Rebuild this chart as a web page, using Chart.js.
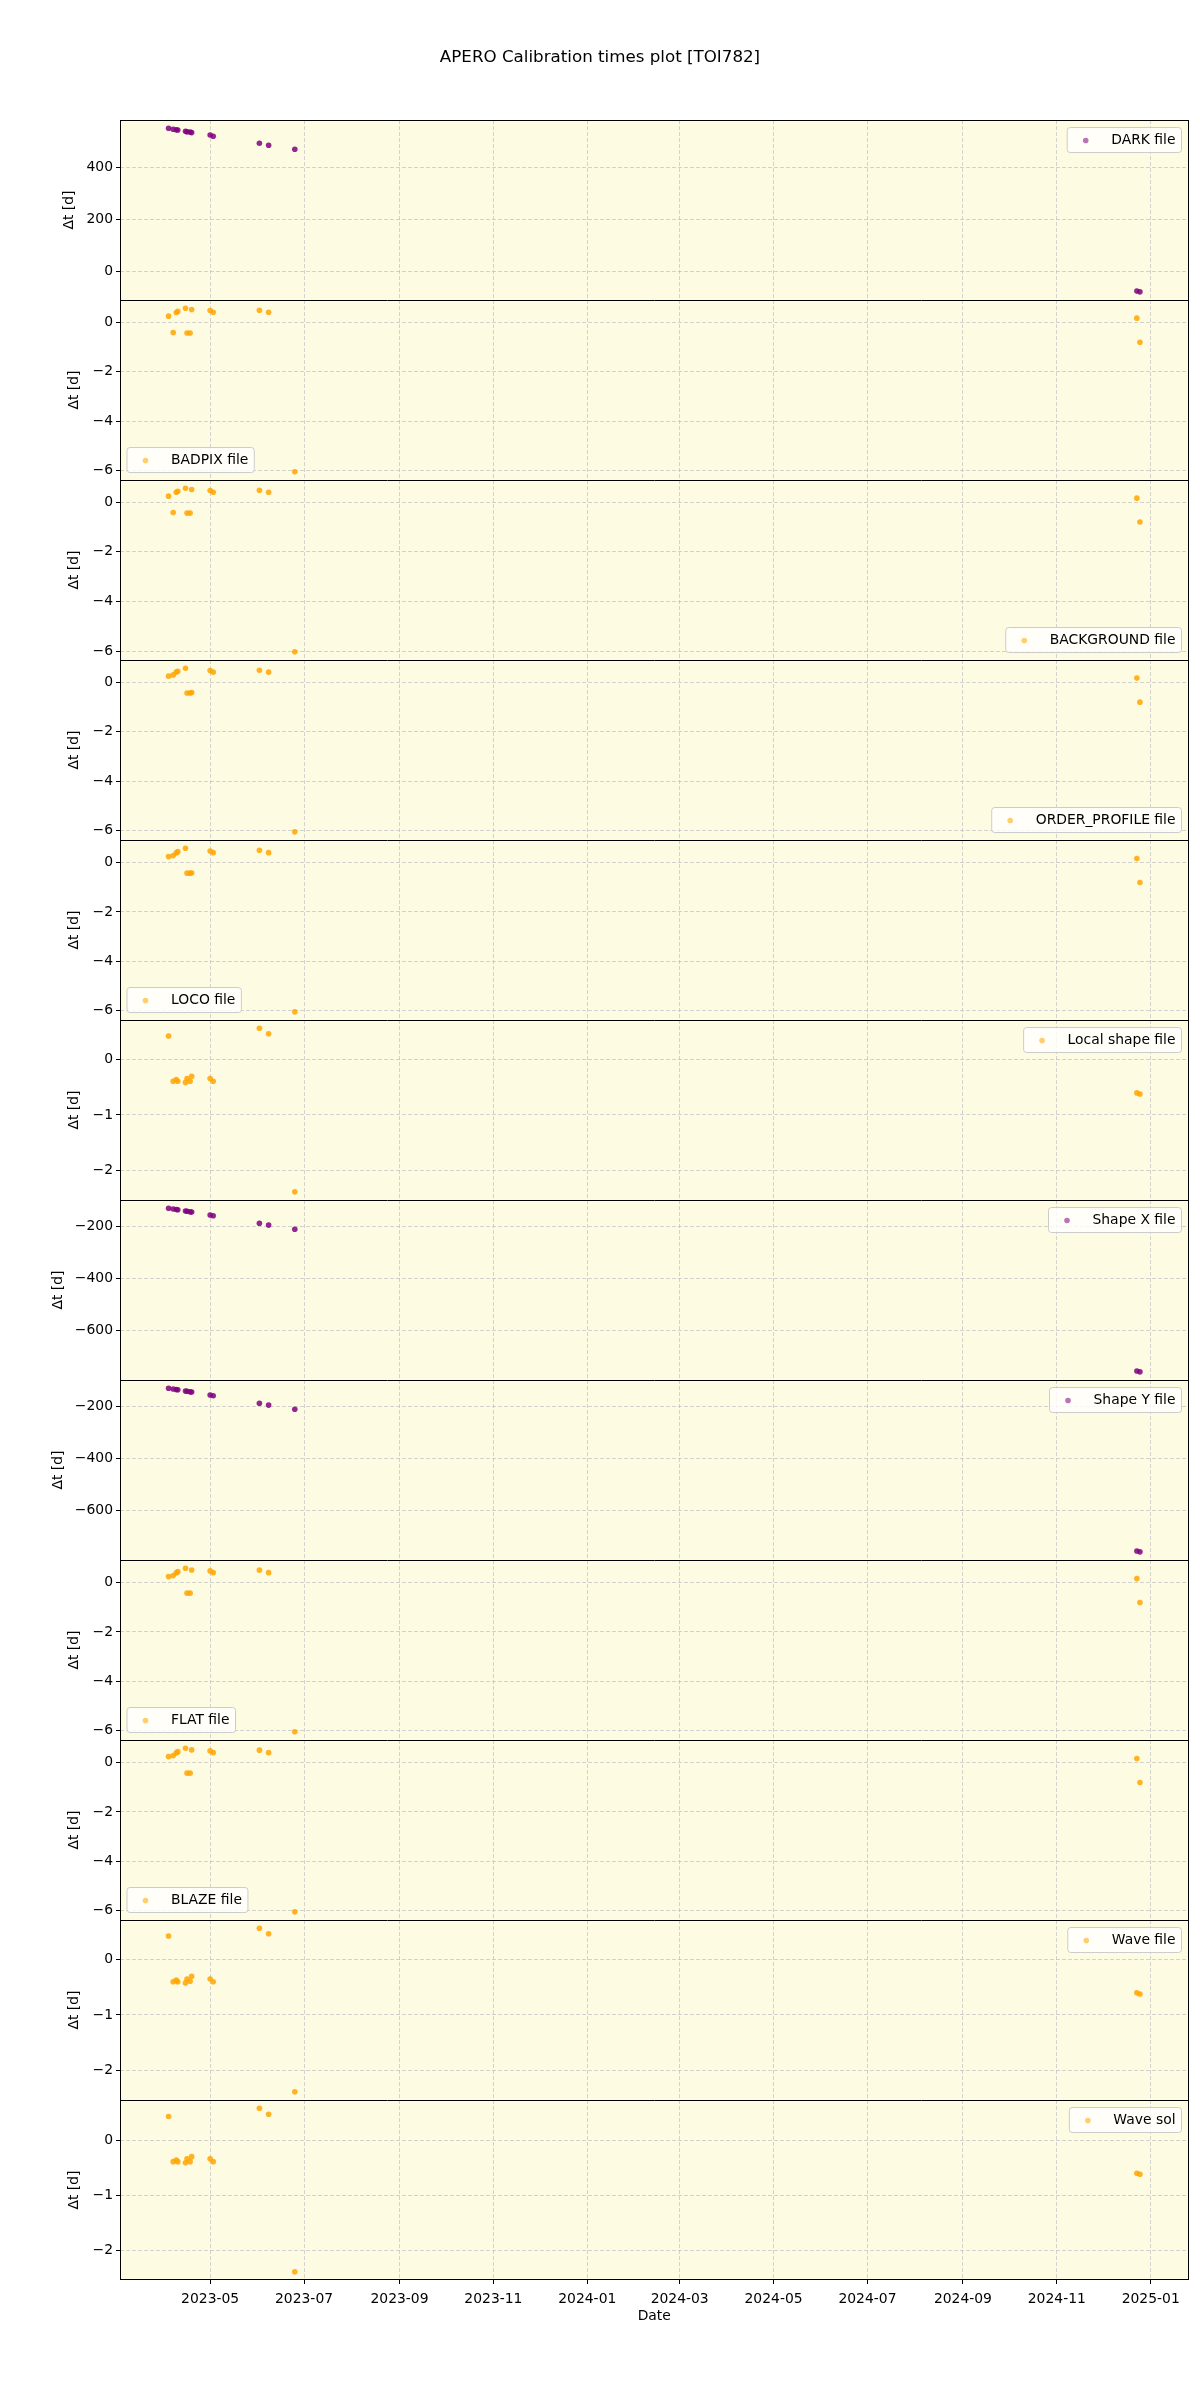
<!DOCTYPE html>
<html>
<head>
<meta charset="utf-8">
<title>APERO Calibration times plot [TOI782]</title>
<script src="https://cdn.jsdelivr.net/npm/chart.js@4"></script>
<style>
    html, body { margin: 0; padding: 0; background: #fff; }
    #wrap { width: 1200px; height: 2400px; }
</style>
</head>
<body>
<div id="wrap"><canvas id="chart_calib_times" width="1200" height="2400"></canvas></div>
<script>
// observation dates (same for every panel)
var obs_dates = ['2023-04-04', '2023-04-07', '2023-04-09', '2023-04-10', '2023-04-15', '2023-04-16',
    '2023-04-18', '2023-04-19', '2023-05-01', '2023-05-03', '2023-06-02', '2023-06-08', '2023-06-25',
    '2024-12-23', '2024-12-25'];

// delta t [d] per calibration file
var dark_file = [552, 548, 546, 545, 540, 538, 537, 535, 526, 521, 494, 486, 471, -77, -80];
var badpix_file = [0.24, -0.42, 0.39, 0.44, 0.56, -0.44, -0.44, 0.51, 0.47, 0.40, 0.48, 0.40, -6.04, 0.16, -0.81];
var background_file = [0.24, -0.42, 0.40, 0.44, 0.56, -0.44, -0.44, 0.51, 0.47, 0.40, 0.48, 0.40, -6.02, 0.16, -0.80];
var order_profile_file = [0.24, 0.29, 0.40, 0.44, 0.56, -0.44, -0.44, -0.42, 0.47, 0.40, 0.48, 0.40, -6.05, 0.16, -0.81];
var loco_file = [0.24, 0.28, 0.39, 0.44, 0.58, -0.43, -0.43, -0.42, 0.47, 0.40, 0.50, 0.40, -6.04, 0.16, -0.81];
var local_shape_file = [0.43, -0.39, -0.36, -0.39, -0.41, -0.34, -0.39, -0.30, -0.34, -0.39, 0.57, 0.47, -2.39, -0.60, -0.62];
var shape_x_file = [-131, -134, -136, -137, -142, -143, -145, -146, -157, -160, -189, -196, -212, -758, -761];
var shape_y_file = [-131, -134, -136, -137, -142, -143, -145, -146, -157, -160, -189, -196, -212, -758, -761];
var flat_file = [0.24, 0.28, 0.39, 0.44, 0.58, -0.43, -0.43, 0.51, 0.47, 0.40, 0.50, 0.40, -6.04, 0.16, -0.81];
var blaze_file = [0.24, 0.28, 0.39, 0.44, 0.58, -0.43, -0.43, 0.51, 0.47, 0.40, 0.50, 0.40, -6.04, 0.16, -0.81];
var wave_file = [0.43, -0.40, -0.37, -0.40, -0.42, -0.35, -0.39, -0.30, -0.35, -0.40, 0.57, 0.47, -2.39, -0.60, -0.62];
var wave_sol = [0.43, -0.39, -0.36, -0.39, -0.41, -0.34, -0.39, -0.30, -0.34, -0.39, 0.58, 0.47, -2.39, -0.60, -0.62];

var panel_names = ['DARK file', 'BADPIX file', 'BACKGROUND file', 'ORDER_PROFILE file', 'LOCO file',
    'Local shape file', 'Shape X file', 'Shape Y file', 'FLAT file', 'BLAZE file', 'Wave file', 'Wave sol'];
var panel_values = [dark_file, badpix_file, background_file, order_profile_file, loco_file,
    local_shape_file, shape_x_file, shape_y_file, flat_file, blaze_file, wave_file, wave_sol];

// tick labels
var x_tick_dates = ['2023-05-01', '2023-07-01', '2023-09-01', '2023-11-01', '2024-01-01', '2024-03-01',
    '2024-05-01', '2024-07-01', '2024-09-01', '2024-11-01', '2025-01-01'];
var x_tick_labels = ['2023-05', '2023-07', '2023-09', '2023-11', '2024-01', '2024-03',
    '2024-05', '2024-07', '2024-09', '2024-11', '2025-01'];
var y_ticks_dark = [0, 200, 400];
var y_ticks_file = [0, -2, -4, -6];
var y_ticks_shape = [0, -1, -2];
var y_ticks_xy = [-200, -400, -600];
var panel_y_ticks = [y_ticks_dark, y_ticks_file, y_ticks_file, y_ticks_file, y_ticks_file,
    y_ticks_shape, y_ticks_xy, y_ticks_xy, y_ticks_file, y_ticks_file, y_ticks_shape, y_ticks_shape];

// styling per panel
var PURPLE = 'rgba(128, 0, 128, 0.85)', ORANGE = 'rgba(255, 165, 0, 0.85)';
var panel_colors = [PURPLE, ORANGE, ORANGE, ORANGE, ORANGE, ORANGE, PURPLE, PURPLE, ORANGE, ORANGE, ORANGE, ORANGE];
var legend_colors = { 'rgba(128, 0, 128, 0.85)': 'rgba(128, 0, 128, 0.55)', 'rgba(255, 165, 0, 0.85)': 'rgba(255, 165, 0, 0.55)' };
var legend_corners = ['ne', 'sw', 'se', 'se', 'sw', 'ne', 'ne', 'ne', 'sw', 'sw', 'ne', 'ne'];
var ylabel_x = [69, 74, 74, 74, 74, 74, 58, 58, 74, 74, 74, 74];

var FONT_FAMILY = '"DejaVu Sans", "Liberation Sans", sans-serif';
var FONT_SIZE = 13.9;
var GRID_COLOR = 'rgba(176, 176, 190, 0.55)';
var PANEL_BG = '#fdfbe1';
var SIDE_PAD = 11.5;

function day_num(s) {
    var p = s.split('-');
    return Date.UTC(+p[0], +p[1] - 1, +p[2]) / 864e5;
}

function padded_range(arr) {
    var lo = Math.min.apply(null, arr), hi = Math.max.apply(null, arr);
    var m = (hi - lo) * 0.05;
    return [lo - m, hi + m];
}

function minus_sign(v) {
    return String(v).replace('-', '\u2212');
}

var obs_days = obs_dates.map(day_num);
var x_range = padded_range(obs_days);

var datasets = [];
var scales = {
    x: {
        type: 'linear',
        position: 'bottom',
        min: x_range[0],
        max: x_range[1],
        bounds: 'data',
        afterBuildTicks: function (scale) {
            scale.ticks = x_tick_dates.map(function (d) { return { value: day_num(d) }; });
        },
        afterFit: function (scale) { scale.height = 52; },
        ticks: {
            autoSkip: false,
            maxRotation: 0,
            padding: 7,
            color: '#000',
            font: { family: FONT_FAMILY, size: FONT_SIZE },
            callback: function (v, i) { return x_tick_labels[i]; }
        },
        grid: { color: GRID_COLOR, lineWidth: 1, tickLength: 4, tickColor: '#000', tickWidth: 1, tickBorderDash: [] },
        border: { display: false, dash: [4, 2] },
        title: {
            display: true,
            text: 'Date',
            color: '#000',
            font: { family: FONT_FAMILY, size: FONT_SIZE },
            padding: { top: 0, bottom: 7 }
        }
    }
};

panel_values.forEach(function (vals, i) {
    var id = 'y' + i;
    var y_range = padded_range(vals);
    datasets.push({
        label: panel_names[i],
        yAxisID: id,
        data: vals.map(function (v, k) { return { x: obs_days[k], y: v }; }),
        backgroundColor: panel_colors[i],
        borderColor: panel_colors[i],
        borderWidth: 0,
        pointRadius: 2.8,
        pointHoverRadius: 2.8
    });
    scales[id] = {
        type: 'linear',
        axis: 'y',
        position: 'left',
        stack: 'panels',
        stackWeight: 1,
        weight: 12 - i,
        min: y_range[0],
        max: y_range[1],
        bounds: 'data',
        afterBuildTicks: function (scale) {
            scale.ticks = panel_y_ticks[i].map(function (v) { return { value: v }; });
        },
        afterFit: function (scale) { scale.width = 120 - SIDE_PAD; },
        ticks: {
            autoSkip: false,
            padding: 3,
            color: '#000',
            font: { family: FONT_FAMILY, size: FONT_SIZE },
            callback: minus_sign
        },
        grid: { color: GRID_COLOR, lineWidth: 1, tickLength: 4, tickColor: '#000', tickWidth: 1, tickBorderDash: [] },
        border: { display: false, dash: [4, 2] },
        title: {
            display: true,
            text: '\u0394t [d]',
            color: '#000',
            font: { family: FONT_FAMILY, size: FONT_SIZE },
            padding: { top: ylabel_x[i] - SIDE_PAD - FONT_SIZE * 0.6, bottom: 0 }
        }
    };
});

var panel_frame_plugin = {
    id: 'panel_frame',
    beforeDraw: function (chart) {
        var ctx = chart.ctx, a = chart.chartArea;
        ctx.save();
        ctx.fillStyle = PANEL_BG;
        ctx.fillRect(a.left, a.top, a.right - a.left, a.bottom - a.top);
        ctx.restore();
    },
    afterDatasetsDraw: function (chart) {
        var ctx = chart.ctx, a = chart.chartArea;
        ctx.save();
        ctx.font = FONT_SIZE + 'px ' + FONT_FAMILY;
        ctx.textBaseline = 'middle';
        panel_names.forEach(function (name, i) {
            var sc = chart.scales['y' + i];
            var text_w = ctx.measureText(name).width;
            var w = 44 + text_w + 6, h = 25;
            var corner = legend_corners[i];
            var bx = corner[1] === 'e' ? a.right - 7 - w : a.left + 7;
            var by = corner[0] === 'n' ? sc.top + 7.5 : sc.bottom - 7.5 - h;
            ctx.beginPath();
            ctx.roundRect(bx, by, w, h, 3);
            ctx.fillStyle = 'rgba(255, 255, 255, 0.8)';
            ctx.fill();
            ctx.strokeStyle = '#cccccc';
            ctx.lineWidth = 1;
            ctx.stroke();
            ctx.beginPath();
            ctx.arc(bx + 18.5, by + h / 2 + 0.5, 2.8, 0, Math.PI * 2);
            ctx.fillStyle = legend_colors[panel_colors[i]];
            ctx.fill();
            ctx.fillStyle = '#000';
            ctx.fillText(name, bx + 44, by + h / 2 + 0.5);
        });
        // spines and panel separators, snapped to whole pixels so they stay black
        var l = Math.round(a.left) + 0.5, r = Math.round(a.right) - 0.5;
        var t = Math.round(a.top) + 0.5, b = Math.round(a.bottom) - 0.5;
        ctx.strokeStyle = '#000';
        ctx.lineWidth = 1;
        ctx.strokeRect(l, t, r - l, b - t);
        for (var i = 1; i < panel_names.length; i++) {
            var y = Math.round(chart.scales['y' + i].top) + 0.5;
            ctx.beginPath();
            ctx.moveTo(l, y);
            ctx.lineTo(r, y);
            ctx.stroke();
        }
        ctx.restore();
    }
};

var chart_calib_times = new Chart(document.getElementById('chart_calib_times'), {
    type: 'scatter',
    data: { datasets: datasets },
    options: {
        responsive: false,
        animation: false,
        devicePixelRatio: 1,
        layout: { padding: { left: SIDE_PAD, right: SIDE_PAD, top: 0, bottom: 68 } },
        scales: scales,
        plugins: {
            legend: { display: false },
            tooltip: { enabled: false },
            title: {
                display: true,
                text: 'APERO Calibration times plot [TOI782]',
                color: '#000',
                font: { family: FONT_FAMILY, size: 16.7, weight: 'normal' },
                padding: { top: 48, bottom: 52 }
            }
        }
    },
    plugins: [panel_frame_plugin]
});
</script>
</body>
</html>
